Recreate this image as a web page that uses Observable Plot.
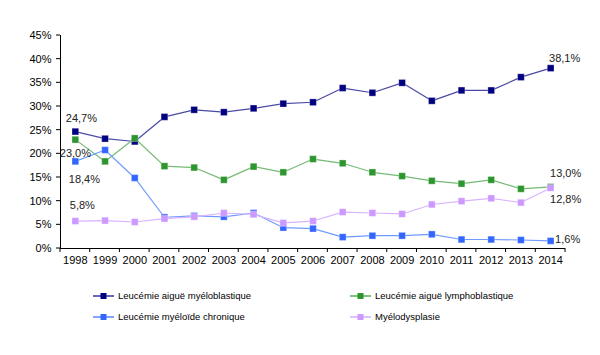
<!DOCTYPE html>
<html><head><meta charset="utf-8">
<script src="https://cdn.jsdelivr.net/npm/d3@7"></script>
<script src="https://cdn.jsdelivr.net/npm/@observablehq/plot@0.6"></script>
<style>
body{margin:0;background:#fff;font-family:"Liberation Sans",Arial,sans-serif;}
#wrap{position:relative;width:600px;height:355px;}
#legend{position:absolute;left:0;top:288px;width:600px;font-size:9.5px;color:#000;}
.li{position:absolute;display:flex;align-items:center;gap:4px;}
</style></head><body><div id="wrap"><div id="chart"></div><div id="legend"></div></div>
<script>
const years = [1998,1999,2000,2001,2002,2003,2004,2005,2006,2007,2008,2009,2010,2011,2012,2013,2014];
const seriesNames = ["Leucémie aiguë myéloblastique","Leucémie aiguë lymphoblastique","Leucémie myéloïde chronique","Myélodysplasie"];
const aml = [24.7,23.2,22.6,27.8,29.3,28.8,29.6,30.6,30.9,33.9,32.9,35.0,31.2,33.4,33.4,36.2,38.1];
const all = [23.0,18.4,23.3,17.4,17.1,14.5,17.3,16.1,18.9,18.0,16.1,15.3,14.3,13.7,14.5,12.6,13.0];
const cml = [18.4,20.8,14.9,6.6,6.9,6.7,7.5,4.4,4.2,2.4,2.7,2.7,3.0,1.9,1.9,1.8,1.6];
const mds = [5.8,5.9,5.6,6.3,6.7,7.5,7.2,5.4,5.8,7.7,7.5,7.3,9.3,10.0,10.6,9.7,12.8];
const yTicks = [0,5,10,15,20,25,30,35,40,45];
const markerColors = ["#000080","#2e962e","#3366ff","#cc99ff"];
const lineColors = ["#4a4aa6","#74bb74","#6f9bff","#d8b4ff"];
const valuesList = [aml, all, cml, mds];

const data = [];
valuesList.forEach((vals, s) => vals.forEach((v, i) => data.push({series: seriesNames[s], s, year: years[i], value: v})));

const labels = [
  {year:1998, value:aml[0], text:"24,7%", dx:6, dy:-13},
  {year:1998, value:all[0], text:"23,0%", dx:0, dy:14},
  {year:1998, value:cml[0], text:"18,4%", dx:9, dy:18},
  {year:1998, value:mds[0], text:"5,8%", dx:7, dy:-16},
  {year:2014, value:aml[16], text:"38,1%", dx:14, dy:-10},
  {year:2014, value:all[16], text:"13,0%", dx:15, dy:-13},
  {year:2014, value:mds[16], text:"12,8%", dx:15, dy:12},
  {year:2014, value:cml[16], text:"1,6%", dx:17, dy:-1}
];
const boundaries = d3.range(years.length + 1).map(i => years[0] - 0.5 + i);
const x0 = years[0] - 0.5;

const chart = Plot.plot({
  width: 600, height: 280,
  marginLeft: 60, marginRight: 35, marginTop: 35, marginBottom: 32,
  style: {fontFamily: '"Liberation Sans", Arial, sans-serif', fontSize: "11px", color: "#000", background: "#fff"},
  x: {type: "linear", domain: [x0, years[years.length-1]+0.5], axis: null},
  y: {type: "linear", domain: [0,45], axis: null},
  marks: [
    Plot.ruleY([0], {stroke: "#000", strokeWidth: 1}),
    Plot.ruleX([x0], {stroke: "#000"}),
    Plot.text(yTicks, {y: d => d, x: () => x0, text: d => d + "%", textAnchor: "end", dx: -9, fontSize: 11}),
    Plot.text(years, {x: d => d, y: () => 0, text: d => String(d), dy: 12, fontSize: 11}),
    ...[0,1,2,3].map(s => Plot.line(data.filter(d => d.s === s), {x: "year", y: "value", stroke: lineColors[s], strokeWidth: 1.2})),
    ...[0,1,2,3].map(s => Plot.dot(data.filter(d => d.s === s), {x: "year", y: "value", symbol: "square", r: 3.8, fill: markerColors[s], stroke: "#fff", strokeWidth: 0.5, strokeOpacity: 0.6})),
    ...labels.map(l => Plot.text([l], {x: "year", y: "value", text: "text", dx: l.dx, dy: l.dy, fontSize: 11, fill: "#222"}))
  ]
});
document.getElementById("chart").appendChild(chart);

// tick marks drawn with the chart's own scales
{
  const svg = d3.select(chart);
  const xs = chart.scale("x"), ys = chart.scale("y");
  const g = svg.append("g").attr("stroke", "#000");
  g.selectAll(".xt").data(boundaries).join("line")
    .attr("x1", d => xs.apply(d)).attr("x2", d => xs.apply(d))
    .attr("y1", ys.apply(0)).attr("y2", ys.apply(0) + 4);
  g.selectAll(".yt").data(yTicks).join("line")
    .attr("x1", xs.apply(x0) - 4).attr("x2", xs.apply(x0))
    .attr("y1", d => ys.apply(d)).attr("y2", d => ys.apply(d));
}

const legendPos = [[93,8],[350,8],[93,29],[350,29]];
const leg = document.getElementById("legend");
seriesNames.forEach((n, s) => {
  const el = document.createElement("div");
  el.className = "li";
  el.style.left = legendPos[s][0] + "px";
  el.style.top = (legendPos[s][1] - 6) + "px";
  el.innerHTML = `<svg width="21" height="8"><line x1="0" x2="21" y1="4" y2="4" stroke="${markerColors[s]}" stroke-width="1.2"/><rect x="7.5" y="1" width="6" height="6" fill="${markerColors[s]}"/></svg><span>${n}</span>`;
  leg.appendChild(el);
});
</script></body></html>
